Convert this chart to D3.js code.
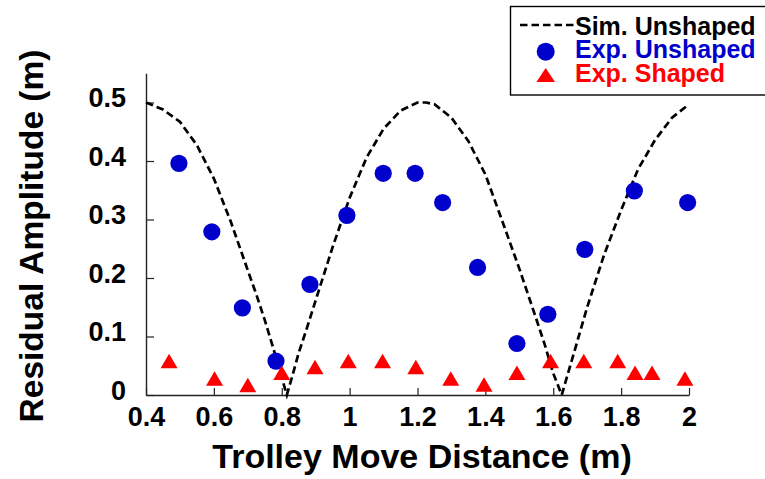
<!DOCTYPE html>
<html>
<head>
<meta charset="utf-8">
<script src="https://cdn.jsdelivr.net/npm/d3@7.9.0/dist/d3.min.js"></script>
<style>
  body { margin: 0; background: #fff; }
  svg { display: block; font-family: "Liberation Sans", Arial, Helvetica, sans-serif; font-weight: bold; }
</style>
</head>
<body>
<svg id="chart" width="765" height="479"></svg>
<script>
// simulated residual amplitude (dashed curve)
const simX = [0.40, 0.45, 0.50, 0.55, 0.60, 0.65, 0.70, 0.725, 0.75, 0.775, 0.80, 0.815, 0.83, 0.85, 0.875, 0.90, 0.95, 1.00, 1.05, 1.10, 1.15, 1.20, 1.225, 1.25, 1.30, 1.35, 1.40, 1.45, 1.50, 1.55, 1.575, 1.60, 1.625, 1.65, 1.70, 1.75, 1.80, 1.85, 1.90, 1.95, 2.00];
const simY = [0.500, 0.488, 0.467, 0.427, 0.370, 0.296, 0.213, 0.172, 0.128, 0.080, 0.030, 0.000, 0.030, 0.072, 0.116, 0.162, 0.253, 0.337, 0.406, 0.455, 0.486, 0.500, 0.500, 0.497, 0.474, 0.434, 0.377, 0.297, 0.216, 0.130, 0.086, 0.037, 0.000, 0.050, 0.150, 0.240, 0.316, 0.386, 0.436, 0.474, 0.497];

// experimental, unshaped (blue circles)
const unshapedX = [0.497, 0.594, 0.684, 0.783, 0.883, 0.992, 1.099, 1.193, 1.274, 1.377, 1.493, 1.584, 1.693, 1.839, 1.996];
const unshapedY = [0.396, 0.279, 0.149, 0.058, 0.189, 0.307, 0.379, 0.379, 0.329, 0.218, 0.088, 0.138, 0.249, 0.349, 0.329];

// experimental, shaped (red triangles)
const shapedX = [0.468, 0.602, 0.700, 0.800, 0.898, 0.996, 1.097, 1.195, 1.298, 1.396, 1.493, 1.592, 1.690, 1.790, 1.841, 1.891, 1.988];
const shapedY = [0.058, 0.028, 0.017, 0.038, 0.048, 0.058, 0.058, 0.048, 0.028, 0.018, 0.038, 0.058, 0.058, 0.058, 0.038, 0.038, 0.028];

const xTicks = [0.4, 0.6, 0.8, 1, 1.2, 1.4, 1.6, 1.8, 2];
const yTicks = [0, 0.1, 0.2, 0.3, 0.4, 0.5];

const legendLabels = ['Sim. Unshaped', 'Exp. Unshaped', 'Exp. Shaped'];
const legendColors = ['#000', '#0000cc', '#ff0000'];

const svg = d3.select('#chart');

const x = d3.scaleLinear().domain([0.4, 2]).range([146, 689]);
const y = d3.scaleLinear().domain([0, 0.55]).range([395, 73.25]);

function triangle(cx, cy, w, h) {
    return `M${cx - w / 2},${cy + h / 2}L${cx},${cy - h / 2}L${cx + w / 2},${cy + h / 2}Z`;
}

// axes, ticks pointing inward
const xAxis = svg.append('g')
    .attr('transform', 'translate(0,395)')
    .call(d3.axisBottom(x).tickValues(xTicks).tickFormat(d3.format('~g'))
        .tickSizeInner(-7).tickSizeOuter(0).tickPadding(12));

const yAxis = svg.append('g')
    .attr('transform', 'translate(146,0)')
    .call(d3.axisLeft(y).tickValues(yTicks).tickFormat(d3.format('~g'))
        .tickSizeInner(-8).tickSizeOuter(0).tickPadding(20));

[xAxis, yAxis].forEach(g => {
    g.select('.domain').attr('stroke', '#222').attr('stroke-width', 1.4);
    g.selectAll('.tick line').attr('stroke', '#222').attr('stroke-width', 1.2);
    g.selectAll('.tick text')
        .attr('fill', '#000')
        .style('font-size', '27px')
        .style('font-family', '"Liberation Sans", Arial, sans-serif')
        .style('font-weight', 'bold');
});
yAxis.selectAll('.tick text').attr('dy', '0.15em');

// axis titles
svg.append('text')
    .attr('x', 422)
    .attr('y', 468)
    .attr('text-anchor', 'middle')
    .style('font-size', '34px')
    .text('Trolley Move Distance (m)');

svg.append('text')
    .attr('transform', 'translate(43,236) rotate(-90)')
    .attr('text-anchor', 'middle')
    .style('font-size', '33.5px')
    .text('Residual Amplitude (m)');

// simulated curve
const line = d3.line()
    .x((d, i) => x(simX[i]))
    .y(d => y(d));

svg.append('path')
    .datum(simY)
    .attr('d', line)
    .attr('fill', 'none')
    .attr('stroke', '#000')
    .attr('stroke-width', 2.7)
    .attr('stroke-dasharray', '7.5,4');

// unshaped experiments
svg.append('g')
    .selectAll('circle')
    .data(unshapedY)
    .join('circle')
    .attr('cx', (d, i) => x(unshapedX[i]))
    .attr('cy', d => y(d))
    .attr('r', 8.6)
    .attr('fill', legendColors[1]);

// shaped experiments
svg.append('g')
    .selectAll('path')
    .data(shapedY)
    .join('path')
    .attr('d', (d, i) => triangle(x(shapedX[i]), y(d), 17, 14.5))
    .attr('fill', legendColors[2]);

// legend
const legend = svg.append('g');
legend.append('rect')
    .attr('x', 510.5).attr('y', 6.5)
    .attr('width', 280).attr('height', 88.5)
    .attr('fill', '#fff')
    .attr('stroke', '#000')
    .attr('stroke-width', 1.4);

legend.append('line')
    .attr('x1', 520).attr('x2', 574)
    .attr('y1', 25).attr('y2', 25)
    .attr('stroke', '#000')
    .attr('stroke-width', 2.7)
    .attr('stroke-dasharray', '7.5,4');

legend.append('circle')
    .attr('cx', 545.7).attr('cy', 51.7)
    .attr('r', 9)
    .attr('fill', legendColors[1]);

legend.append('path')
    .attr('d', triangle(545.7, 75, 18.5, 14))
    .attr('fill', legendColors[2]);

legend.selectAll('text')
    .data(legendLabels)
    .join('text')
    .attr('x', 575)
    .attr('y', (d, i) => 35 + i * 23.4)
    .attr('fill', (d, i) => legendColors[i])
    .style('font-size', '25px')
    .text(d => d);
</script>
</body>
</html>
